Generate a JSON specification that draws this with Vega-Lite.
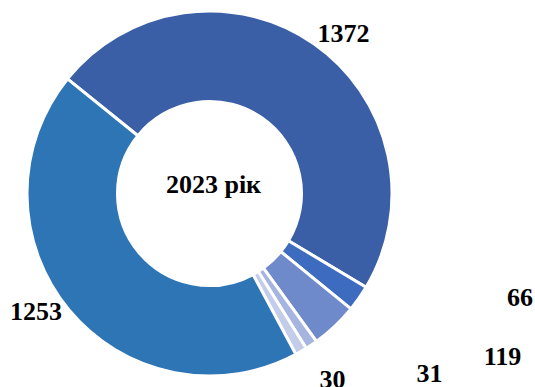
{
  "$schema": "https://vega.github.io/schema/vega-lite/v6.json",
  "width": 419,
  "height": 387,
  "autosize": {"type": "none"},
  "padding": {"left": 0, "top": 0, "right": 116, "bottom": 0},
  "background": "white",
  "config": {"view": {"stroke": null}},
  "layer": [
    {
      "data": {
        "values": [
          {"segment": "s1", "order": 1, "value": 1372},
          {"segment": "s2", "order": 2, "value": 66},
          {"segment": "s3", "order": 3, "value": 119},
          {"segment": "s4", "order": 4, "value": 31},
          {"segment": "s5", "order": 5, "value": 30},
          {"segment": "s6", "order": 6, "value": 1253}
        ]
      },
      "encoding": {
        "theta": {"field": "value", "type": "quantitative", "stack": true, "scale": {"range": [-0.892, 5.391]}},
        "order": {"field": "order", "type": "quantitative"}
      },
      "layer": [
        {
          "mark": {"type": "arc", "radius": 182.5, "radius2": 92, "stroke": "white", "strokeWidth": 3},
          "encoding": {
            "color": {
              "field": "segment", "type": "nominal", "legend": null,
              "scale": {"domain": ["s1", "s2", "s3", "s4", "s5", "s6"], "range": ["#3A5FA7", "#3D6BC0", "#6F8ACB", "#A6B5DF", "#C3CDEA", "#2E75B6"]}
            }
          }
        },
        {
          "mark": {"type": "text", "radius": 205, "dx": 16.7, "dy": 16.6, "align": "center", "baseline": "alphabetic", "font": "Liberation Serif", "fontWeight": "bold", "fontSize": 26, "color": "#000000"},
          "encoding": {"text": {"condition": {"test": "datum.order === 1", "field": "value", "type": "quantitative"}, "value": ""}}
        },
        {
          "mark": {"type": "text", "radius": 205, "dx": 142.7, "dy": -5.3, "align": "center", "baseline": "alphabetic", "font": "Liberation Serif", "fontWeight": "bold", "fontSize": 26, "color": "#000000"},
          "encoding": {"text": {"condition": {"test": "datum.order === 2", "field": "value", "type": "quantitative"}, "value": ""}}
        },
        {
          "mark": {"type": "text", "radius": 205, "dx": 152.3, "dy": 22.4, "align": "center", "baseline": "alphabetic", "font": "Liberation Serif", "fontWeight": "bold", "fontSize": 26, "color": "#000000"},
          "encoding": {"text": {"condition": {"test": "datum.order === 3", "field": "value", "type": "quantitative"}, "value": ""}}
        },
        {
          "mark": {"type": "text", "radius": 205, "dx": 105.6, "dy": 18.4, "align": "center", "baseline": "alphabetic", "font": "Liberation Serif", "fontWeight": "bold", "fontSize": 26, "color": "#000000"},
          "encoding": {"text": {"condition": {"test": "datum.order === 4", "field": "value", "type": "quantitative"}, "value": ""}}
        },
        {
          "mark": {"type": "text", "radius": 205, "dx": 20.2, "dy": 16.7, "align": "center", "baseline": "alphabetic", "font": "Liberation Serif", "fontWeight": "bold", "fontSize": 26, "color": "#000000"},
          "encoding": {"text": {"condition": {"test": "datum.order === 5", "field": "value", "type": "quantitative"}, "value": ""}}
        },
        {
          "mark": {"type": "text", "radius": 205, "dx": -15.6, "dy": -4.3, "align": "center", "baseline": "alphabetic", "font": "Liberation Serif", "fontWeight": "bold", "fontSize": 26, "color": "#000000"},
          "encoding": {"text": {"condition": {"test": "datum.order === 6", "field": "value", "type": "quantitative"}, "value": ""}}
        }
      ]
    },
    {
      "data": {"values": [{"title": "2023 рік"}]},
      "mark": {"type": "text", "dx": 4, "dy": -0.5, "align": "center", "baseline": "alphabetic", "font": "Liberation Serif", "fontWeight": "bold", "fontSize": 26, "color": "#000000"},
      "encoding": {"text": {"field": "title", "type": "nominal"}}
    }
  ]
}
